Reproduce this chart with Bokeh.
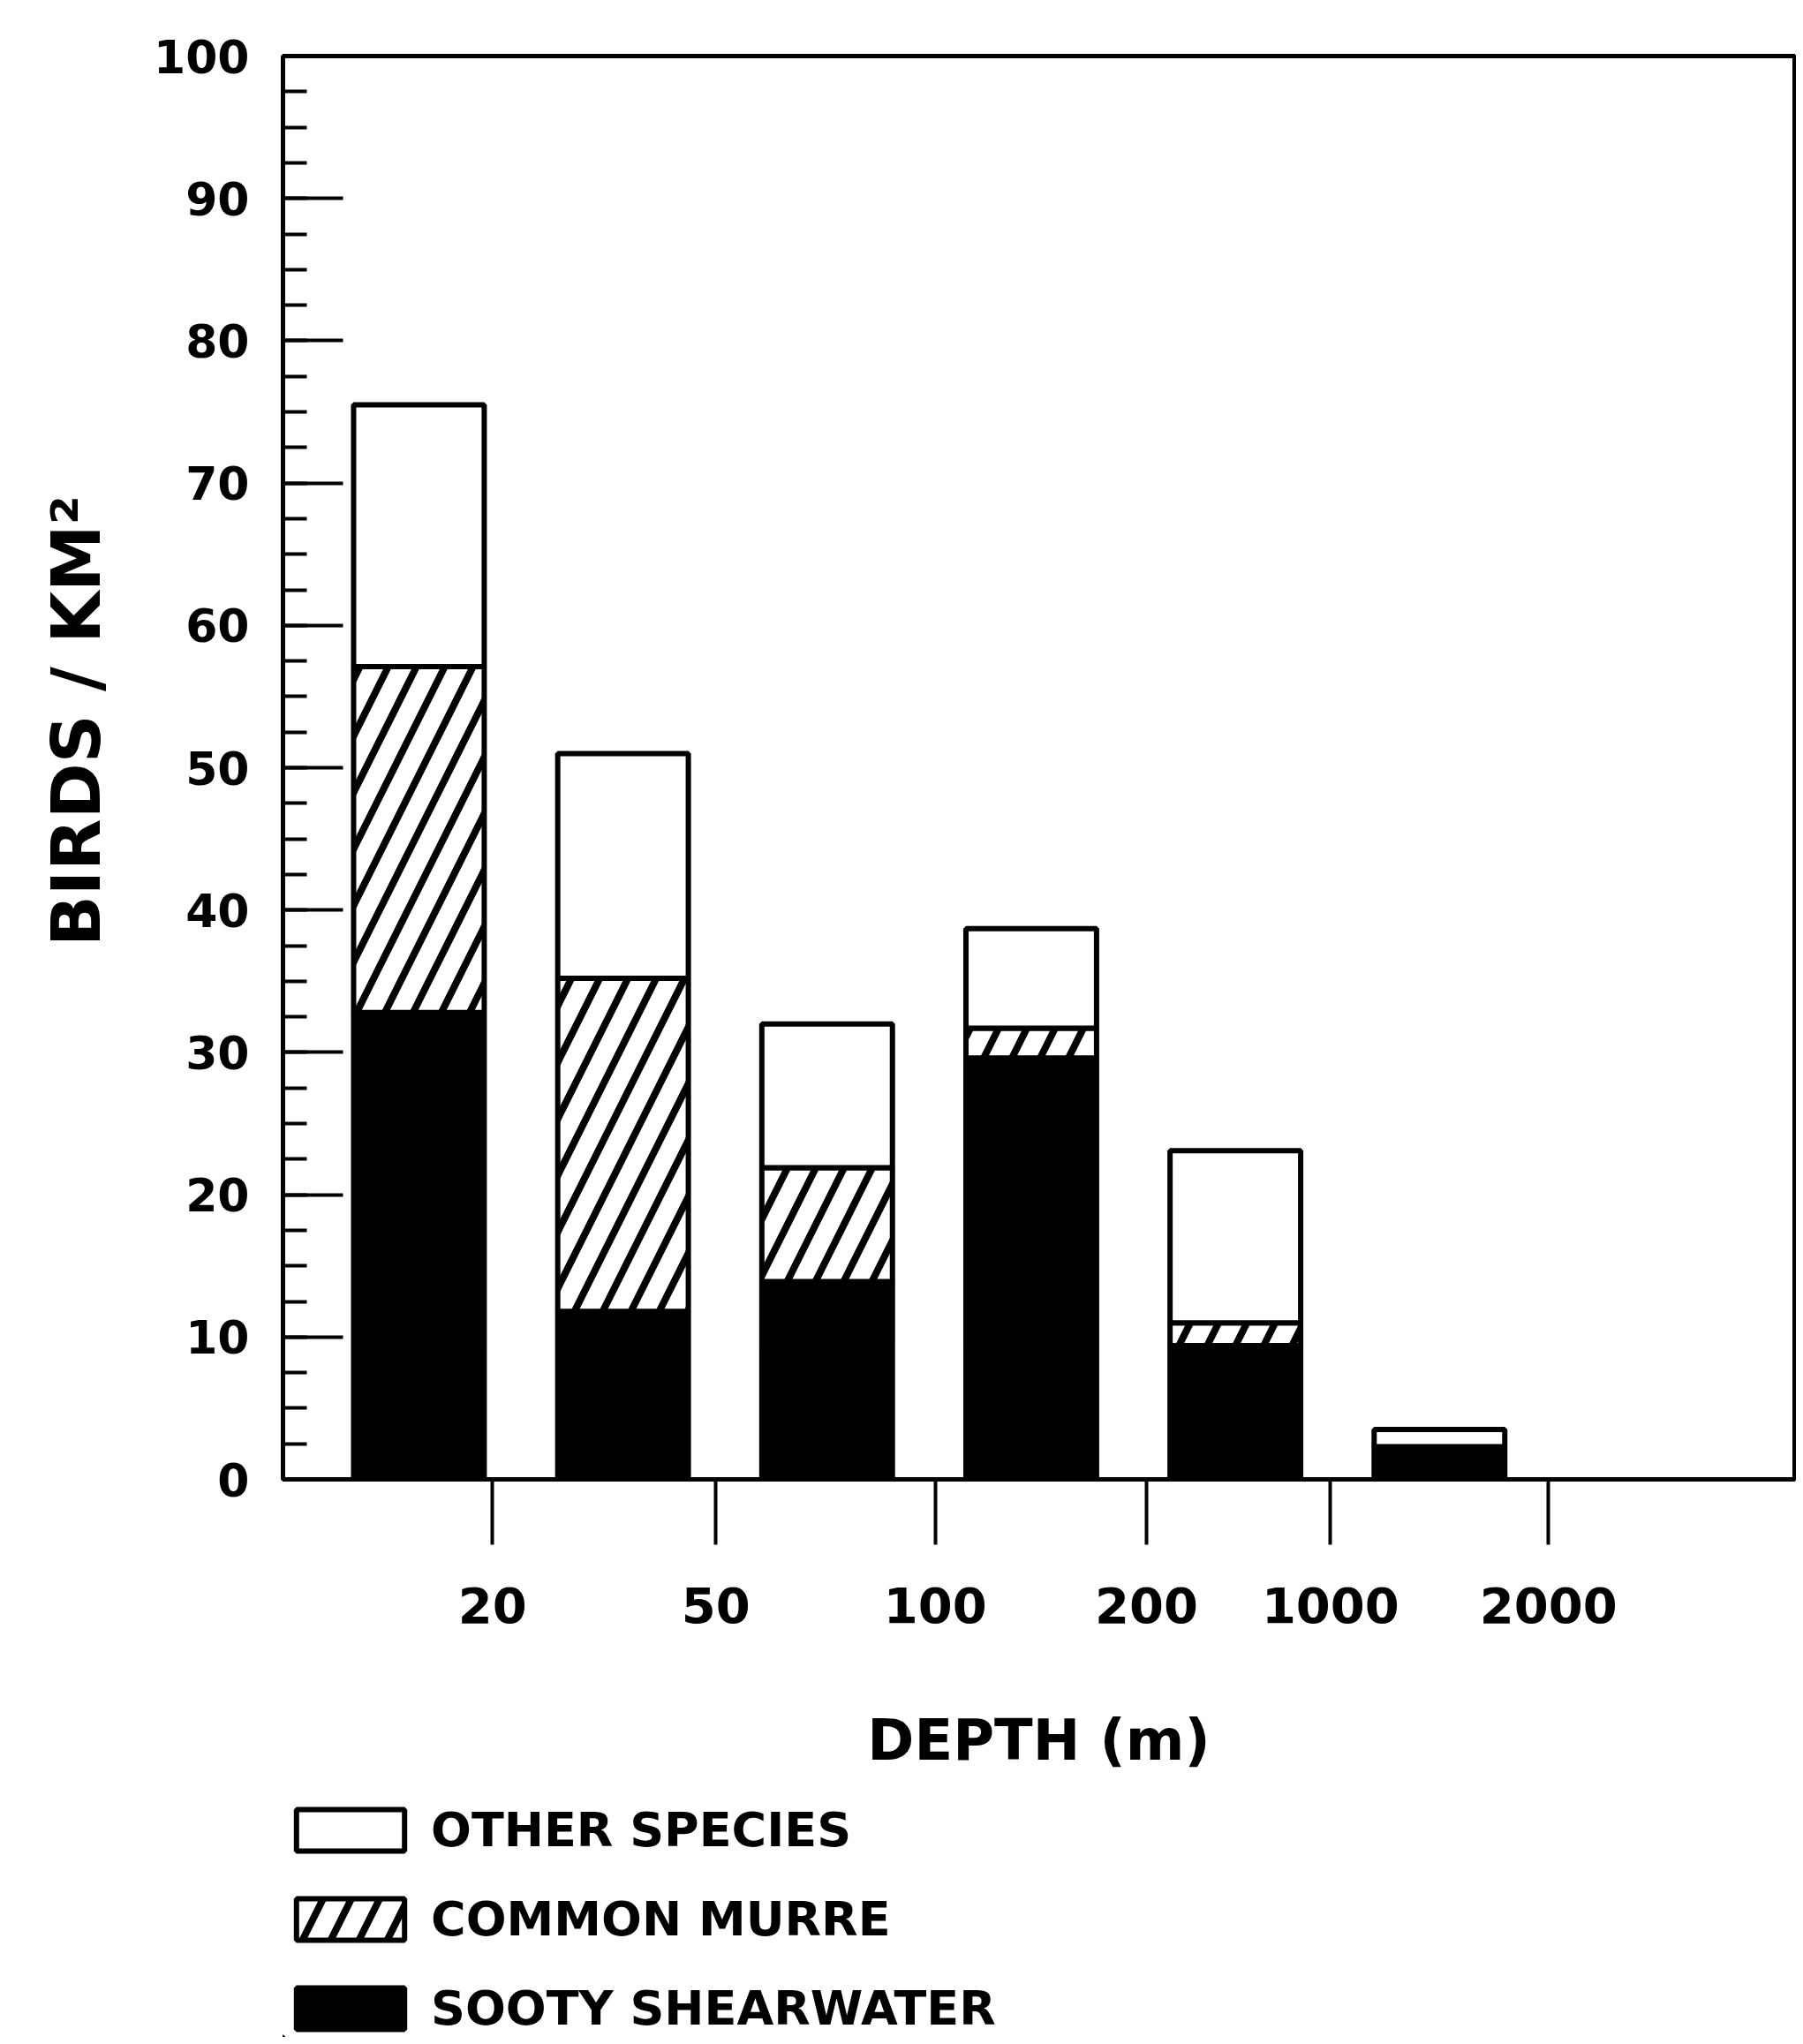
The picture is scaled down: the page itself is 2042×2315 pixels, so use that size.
from bokeh.plotting import figure
from bokeh.layouts import column
from bokeh.models import (ColumnDataSource, SingleIntervalTicker, FixedTicker, Range1d,
                          Legend, LegendItem)
from bokeh.embed import file_html
from bokeh.resources import INLINE

# ---- data ----
depth_labels = ["20", "50", "100", "200", "1000", "2000"]   # depth class boundaries (m)
sooty = [32.8, 11.8, 13.9, 29.6, 9.4, 2.3]                   # Sooty Shearwater, birds/km2
murre = [24.3, 23.4, 8.0, 2.1, 1.6, 0.0]                     # Common Murre
other = [18.4, 15.8, 10.1, 7.0, 12.1, 1.2]                   # Other species
series_names = ["OTHER SPECIES", "COMMON MURRE", "SOOTY SHEARWATER"]

# ---- layout ----
bar_pos = [1, 2, 3, 4, 5, 6]
tick_pos = [1.36, 2.455, 3.53, 4.565, 5.466, 6.534]
FONT = "DejaVu Sans"

s_top = sooty
m_top = [a + b for a, b in zip(sooty, murre)]
o_top = [a + b for a, b in zip(m_top, other)]
src = ColumnDataSource(dict(x=bar_pos, zero=[0] * len(bar_pos), s_top=s_top,
                            m_top=m_top, o_top=o_top))

HATCH = dict(hatch_pattern="/", hatch_color="black", hatch_scale=64, hatch_weight=8)

p = figure(width=2034, height=2010, output_backend="svg", toolbar_location=None,
           x_range=Range1d(0.334, 7.74), y_range=Range1d(0, 100),
           min_border_left=320, min_border_right=2, min_border_top=63,
           min_border_bottom=335)
p.xgrid.grid_line_color = None
p.ygrid.grid_line_color = None
p.outline_line_color = "black"
p.outline_line_width = 5
p.background_fill_color = "white"

BW = 0.64
STY_S = dict(fill_color="black", line_color="black", line_width=6)
STY_M = dict(fill_color="white", line_color="black", line_width=6, **HATCH)
STY_O = dict(fill_color="white", line_color="black", line_width=6)
r_s = p.vbar(x="x", width=BW, bottom="zero", top="s_top", source=src, **STY_S)
r_m = p.vbar(x="x", width=BW, bottom="s_top", top="m_top", source=src, **STY_M)
r_o = p.vbar(x="x", width=BW, bottom="m_top", top="o_top", source=src, **STY_O)

# y axis
ya = p.yaxis[0]
ya.ticker = SingleIntervalTicker(interval=10, num_minor_ticks=4)
ya.axis_line_width = 5
ya.major_tick_in = 68
ya.major_tick_out = 0
ya.minor_tick_in = 27
ya.minor_tick_out = 0
ya.major_tick_line_width = 4
ya.minor_tick_line_width = 4
ya.major_label_text_font = FONT
ya.major_label_text_font_style = "bold"
ya.major_label_text_font_size = "52px"
ya.major_label_text_color = "black"
ya.major_label_standoff = 38
ya.axis_label = "\u00a0" * 4 + "BIRDS / KM²"
ya.axis_label_text_font = FONT
ya.axis_label_text_font_style = "bold"
ya.axis_label_text_font_size = "76px"
ya.axis_label_text_color = "black"
ya.axis_label_standoff = 40

# x axis
xa = p.xaxis[0]
xa.ticker = FixedTicker(ticks=tick_pos, minor_ticks=[])
xa.major_label_overrides = {t: l for t, l in zip(tick_pos, depth_labels)}
xa.axis_line_width = 5
xa.major_tick_in = 0
xa.major_tick_out = 74
xa.major_tick_line_width = 4
xa.minor_tick_in = 0
xa.minor_tick_out = 0
xa.major_label_text_font = FONT
xa.major_label_text_font_style = "bold"
xa.major_label_text_font_size = "56px"
xa.major_label_text_color = "black"
xa.major_label_standoff = 48
xa.axis_label = "DEPTH (m)"
xa.axis_label_text_font = FONT
xa.axis_label_text_font_style = "bold"
xa.axis_label_text_font_size = "64px"
xa.axis_label_text_color = "black"
xa.axis_label_standoff = 93

# legend strip below the chart (its frame is aligned with the chart's frame)
p2 = figure(width=2034, height=297, output_backend="svg", toolbar_location=None,
            x_axis_location=None, y_axis_location=None, min_border=0,
            x_range=Range1d(0, 1), y_range=Range1d(0, 1))
p2.xgrid.grid_line_color = None
p2.ygrid.grid_line_color = None
p2.outline_line_color = None
off = dict(x=[-5], top=[-5], bottom=[-6], width=1)   # kept off-screen; legend swatches only
l_o = p2.vbar(**off, **STY_O)
l_m = p2.vbar(**off, **STY_M)
l_s = p2.vbar(**off, **STY_S)
legend = Legend(items=[LegendItem(label=series_names[0], renderers=[l_o]),
                       LegendItem(label=series_names[1], renderers=[l_m]),
                       LegendItem(label=series_names[2], renderers=[l_s])],
                location=(0, 1), orientation="vertical",
                glyph_width=153, glyph_height=59, label_standoff=15, spacing=38,
                padding=0, margin=0, border_line_color=None,
                background_fill_alpha=0,
                label_text_font=FONT, label_text_font_style="bold",
                label_text_font_size="54px", label_text_color="black")
p2.add_layout(legend, "center")

open("out.html", "w").write(file_html(column(p, p2, spacing=0), INLINE))
